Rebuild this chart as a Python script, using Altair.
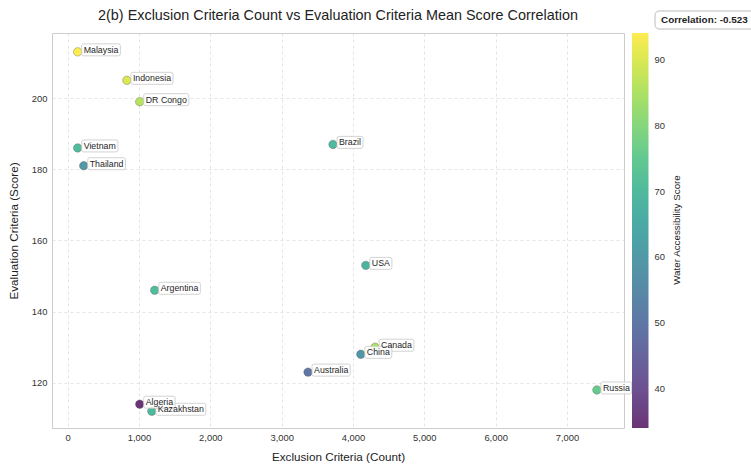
import altair as alt
import pandas as pd

# ---- data ----
countries = ["Malaysia", "Indonesia", "DR Congo", "Vietnam", "Thailand", "Brazil", "USA",
             "Argentina", "Canada", "China", "Australia", "Russia", "Kazakhstan", "Algeria"]
exclusion = [140, 830, 1010, 140, 225, 3720, 4180, 1220, 4310, 4110, 3370, 7420, 1180, 1010]
evaluation = [213, 205, 199, 186, 181, 187, 153, 146, 130, 128, 123, 118, 112, 114]
water = [94, 90, 86, 71, 60, 70, 68, 71, 85, 59, 50, 76, 70, 34]
x_ticks = [0, 1000, 2000, 3000, 4000, 5000, 6000, 7000]
y_ticks = [120, 140, 160, 180, 200]
cbar_ticks = [40, 50, 60, 70, 80, 90]
corr_text = "Correlation: -0.523"
title_text = "2(b) Exclusion Criteria Count vs Evaluation Criteria Mean Score Correlation"
cbar_label = "Water Accessibility Score"

# ---- styles ----
FONT = "Liberation Sans"
LABEL_FS = 8.8
viridis = ["#440154", "#482878", "#3e4989", "#31688e", "#26828e",
           "#1f9e89", "#35b779", "#6ece58", "#b5de2b", "#fde725"]


def blend(h, a=0.8):
    r, g, b = int(h[1:3], 16), int(h[3:5], 16), int(h[5:7], 16)
    f = lambda c: int(round(a * c + (1 - a) * 255))
    return "#%02x%02x%02x" % (f(r), f(g), f(b))


cmap = [blend(c) for c in viridis]

arial = {" ": 278, "(": 333, ")": 333, "A": 667, "B": 667, "C": 722, "D": 722, "E": 667,
         "G": 778, "I": 278, "K": 667, "M": 833, "R": 722, "S": 667, "T": 611, "U": 722,
         "V": 667, "a": 556, "b": 556, "c": 500, "d": 556, "e": 556, "g": 556, "h": 556,
         "i": 222, "k": 500, "l": 222, "m": 833, "n": 556, "o": 556, "r": 333, "s": 500,
         "t": 278, "u": 556, "y": 500, "z": 500, "p": 556, "f": 278}


def box_path(label):
    w = sum(arial.get(ch, 556) for ch in label) * LABEL_FS / 1000 + 4
    x0, x1, y0, y1, r = 4, 4 + w, -8, 4, 2
    return (f"M{x0+r},{y0} L{x1-r},{y0} Q{x1},{y0} {x1},{y0+r} L{x1},{y1-r} "
            f"Q{x1},{y1} {x1-r},{y1} L{x0+r},{y1} Q{x0},{y1} {x0},{y1-r} "
            f"L{x0},{y0+r} Q{x0},{y0} {x0+r},{y0} Z")


df = pd.DataFrame({"country": countries, "exclusion": exclusion,
                   "evaluation": evaluation, "water": water})
df["box"] = [box_path(c) for c in countries]

xs = alt.X("exclusion:Q", scale=alt.Scale(domain=[-220, 7800], nice=False, zero=False),
           axis=alt.Axis(title="Exclusion Criteria (Count)", values=x_ticks, format=",.0f"))
ys = alt.Y("evaluation:Q", scale=alt.Scale(domain=[107.3, 218.3], nice=False, zero=False),
           axis=alt.Axis(title="Evaluation Criteria (Score)", values=y_ticks, format="d"))

base = alt.Chart(df)

points = base.mark_circle(size=72, opacity=1, stroke="#555555", strokeWidth=0.5,
                          strokeOpacity=0.7).encode(
    x=xs, y=ys,
    color=alt.Color("water:Q",
                    scale=alt.Scale(domain=[34.1, 94.1], range=cmap, nice=False, zero=False),
                    legend=alt.Legend(title=None, orient="none", legendX=580, legendY=0,
                                      direction="vertical", gradientLength=395,
                                      gradientThickness=16.5, values=cbar_ticks,
                                      labelFontSize=9.4, labelFont=FONT, labelColor="#333333",
                                      labelOffset=6, gradientStrokeWidth=0, padding=0))
)

boxes = base.mark_point(size=4, filled=False, fill="white", fillOpacity=0.85,
                        stroke="#c8c8c8", strokeWidth=0.8, opacity=1).encode(
    x=xs, y=ys, shape=alt.Shape("box:N", scale=None)
)

labels = base.mark_text(align="left", baseline="middle", dx=6, dy=-2, font=FONT,
                        fontSize=LABEL_FS, color="#262626").encode(
    x=xs, y=ys, text="country:N"
)

note_df = pd.DataFrame({"t": [corr_text], "c": [cbar_label], "title": [title_text]})
note = alt.Chart(note_df)
corr_box = note.mark_rect(fill="white", stroke="#aaaaaa", strokeWidth=0.8,
                          cornerRadius=4).encode(
    x=alt.value(603), x2=alt.value(712), y=alt.value(-22), y2=alt.value(-4)
)
corr_txt = note.mark_text(align="left", baseline="middle", font=FONT, fontSize=9.9,
                          fontWeight="bold", color="#222222").encode(
    x=alt.value(609), y=alt.value(-13), text="t:N"
)
cbar_title = note.mark_text(align="center", baseline="middle", font=FONT, fontSize=9.8,
                            angle=270, color="#222222").encode(
    x=alt.value(625), y=alt.value(197), text="c:N"
)
title_mark = note.mark_text(align="center", baseline="middle", font=FONT, fontSize=14.4,
                            color="#222222").encode(
    x=alt.value(286), y=alt.value(-17), text="title:N"
)

chart = alt.layer(points, boxes, labels, corr_box, corr_txt, cbar_title, title_mark).properties(
    width=572, height=395,
    autosize=alt.AutoSizeParams(type="none"),
    padding={"left": 52, "top": 33, "right": 127, "bottom": 38},
).configure_view(
    stroke="#cccccc", strokeWidth=1
).configure_axis(
    grid=True, gridColor="#dddddd", gridDash=[3, 3], gridWidth=0.8,
    ticks=False, domain=False, labelFont=FONT, labelFontSize=9.4, labelColor="#333333",
    titleFont=FONT, titleFontSize=11.7, titleFontWeight="normal", titleColor="#222222"
).configure_axisX(labelPadding=5, titlePadding=10).configure_axisY(
    labelPadding=5, titlePadding=12
)

chart.save("out.html", embed_options={"renderer": "svg", "actions": False})
